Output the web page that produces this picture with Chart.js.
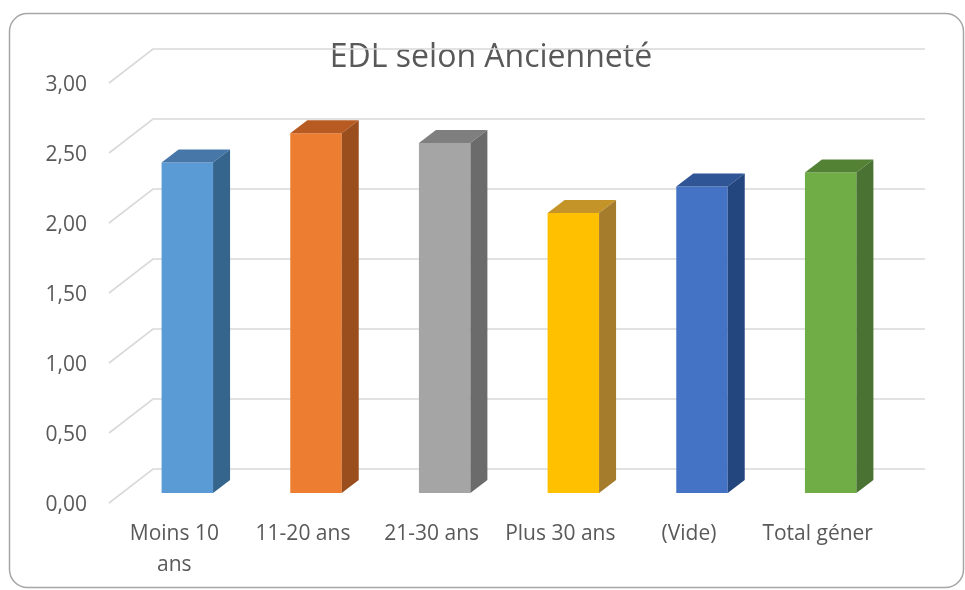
<!DOCTYPE html>
<html><head><meta charset="utf-8">
<script src="https://cdn.jsdelivr.net/npm/chart.js@4/dist/chart.umd.min.js"></script>
<style>html,body{margin:0;padding:0;background:#fff;overflow:hidden}#wrap{width:965px;height:590px}</style>
</head><body><div id="wrap"><canvas id="c" width="965" height="590"></canvas></div>
<script>
const chartTitle = "EDL selon Ancienneté";
const categories = [["Moins 10", "ans"], "11-20 ans", "21-30 ans", "Plus 30 ans", "(Vide)", "Total géner"];
const values = [2.36, 2.57, 2.50, 2.00, 2.19, 2.29];
const yTicks = [0, 0.5, 1, 1.5, 2, 2.5, 3];
const frontColors = ["#5B9BD5", "#ED7D31", "#A5A5A5", "#FFC000", "#4472C4", "#70AD47"];
const topColors = ["#4677A8", "#B85B22", "#7F7F7F", "#C49428", "#2F5597", "#548235"];
const sideColors = ["#35648C", "#9A4E1E", "#6B6B6B", "#A57C2C", "#24467E", "#4A7233"];

const TXT = "#595959";
const FONT = "'Open Sans', sans-serif";

const gridPlugin = {
  id: "grid3d",
  beforeDatasetsDraw(chart) {
    const ctx = chart.ctx, ys = chart.scales.y, ca = chart.chartArea;
    ctx.save();
    ctx.strokeStyle = "#D9D9D9";
    ctx.lineWidth = 1.6;
    ys.ticks.forEach(t => {
      const y = ys.getPixelForValue(t.value);
      ctx.beginPath();
      ctx.moveTo(ca.left - 14, y + 10);
      ctx.lineTo(ca.left + 30, y - 24);
      ctx.lineTo(ca.right + 30, y - 24);
      ctx.stroke();
    });
    ctx.restore();
  }
};

const barPlugin = {
  id: "bar3d",
  afterDatasetsDraw(chart) {
    const ctx = chart.ctx;
    const meta = chart.getDatasetMeta(0);
    const dx = 17, dy = -13;
    ctx.save();
    meta.data.forEach((el, i) => {
      const p = el.getProps(["x", "y", "base", "width"], true);
      const l = p.x - p.width / 2, r = p.x + p.width / 2;
      ctx.fillStyle = topColors[i];
      ctx.beginPath();
      ctx.moveTo(l, p.y); ctx.lineTo(l + dx, p.y + dy); ctx.lineTo(r + dx, p.y + dy); ctx.lineTo(r, p.y);
      ctx.closePath(); ctx.fill();
      ctx.fillStyle = sideColors[i];
      ctx.beginPath();
      ctx.moveTo(r, p.y); ctx.lineTo(r + dx, p.y + dy); ctx.lineTo(r + dx, p.base + dy); ctx.lineTo(r, p.base);
      ctx.closePath(); ctx.fill();
    });
    ctx.restore();
  }
};

const framePlugin = {
  id: "frame",
  beforeDraw(chart) {
    const ctx = chart.ctx;
    ctx.save();
    ctx.fillStyle = "#FFFFFF";
    ctx.fillRect(0, 0, chart.width, chart.height);
    ctx.restore();
  },
  afterDraw(chart) {
    const ctx = chart.ctx;
    ctx.save();
    ctx.strokeStyle = "#A6A6A6";
    ctx.lineWidth = 1.5;
    ctx.beginPath();
    ctx.roundRect(9.5, 13.5, 954, 574, 18);
    ctx.stroke();
    ctx.restore();
  }
};

new Chart(document.getElementById("c"), {
  type: "bar",
  data: {
    labels: categories,
    datasets: [{
      data: values,
      backgroundColor: frontColors,
      borderWidth: 0,
      barPercentage: 0.4,
      categoryPercentage: 1.0
    }]
  },
  options: {
    responsive: false,
    devicePixelRatio: 1,
    animation: false,
    layout: { padding: { left: 20, right: 3, top: 43, bottom: 0 } },
    plugins: {
      legend: { display: false },
      tooltip: { enabled: false },
      title: {
        display: true,
        text: chartTitle,
        color: TXT,
        font: { family: FONT, size: 32, weight: "normal", lineHeight: 30 / 32 },
        padding: 0
      }
    },
    scales: {
      y: {
        min: 0, max: 3,
        afterBuildTicks: s => { s.ticks = yTicks.map(v => ({ value: v })); },
        afterFit: s => { s.width = 103; },
        grid: { display: false, drawTicks: false },
        border: { display: false },
        ticks: {
          color: TXT,
          font: { family: FONT, size: 21 },
          padding: 36,
          labelOffset: 12,
          callback: v => Number(v).toFixed(2).replace(".", ",")
        }
      },
      yRight: {
        position: "right",
        display: true,
        min: 0, max: 3,
        afterFit: s => { s.width = 67; },
        grid: { display: false, drawTicks: false },
        border: { display: false },
        ticks: { display: false }
      },
      x: {
        afterFit: s => { s.height = 97; },
        grid: { display: false },
        border: { display: false },
        ticks: {
          color: TXT,
          font: { family: FONT, size: 21, lineHeight: 1.5 },
          padding: 17,
          labelOffset: -13,
          maxRotation: 0, minRotation: 0, autoSkip: false
        }
      }
    }
  },
  plugins: [gridPlugin, barPlugin, framePlugin]
});
</script>
</body></html>
